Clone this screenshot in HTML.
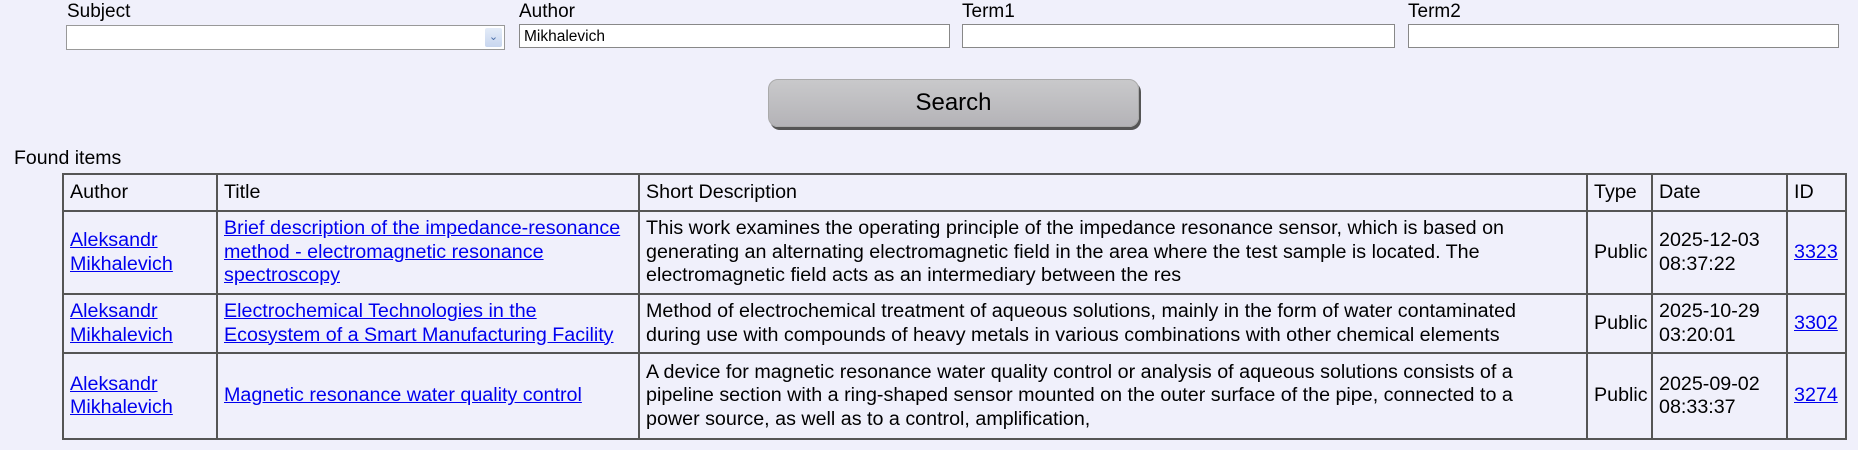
<!DOCTYPE html>
<html><head><meta charset="utf-8"><style>
body{margin:0;width:1858px;height:450px;background:#f0f0fb;font-family:"Liberation Sans",Arial,sans-serif;color:#000;position:relative;overflow:hidden}
.lbl{position:absolute;font-size:19px;top:1px}
.inp{position:absolute;top:24px;height:24px;background:#fff;border:1px solid #888;box-sizing:border-box;font-size:15.5px;padding:3px 4px}
.sel{top:25px;border-color:#999}
.arr{position:absolute;right:2px;top:2px;width:17px;height:19px;background:linear-gradient(#e4ecf8,#c8d6ef);color:#4a6ea8;font-size:11px;text-align:center;line-height:19px;border-radius:2px}
.btn{position:absolute;left:768px;top:79px;width:371px;height:48px;box-sizing:border-box;background:linear-gradient(#c9c9cb,#b4b3b7);border-radius:10px;border:1px solid #aaa;box-shadow:2px 3px 0 #555;font-size:24px;text-align:center;line-height:46px}
.found{position:absolute;left:14px;top:147px;font-size:19.5px}
table{position:absolute;left:62px;top:173px;border-collapse:collapse;table-layout:fixed;width:1783px;font-size:19.7px;line-height:23.5px}
td{border:2px solid #555;padding:0 6px;vertical-align:middle;box-sizing:border-box}
td.d{padding-right:40px}
a{color:#00e;text-decoration:underline}
</style></head><body>
<div class="lbl" style="left:67px">Subject</div>
<div class="lbl" style="left:519px">Author</div>
<div class="lbl" style="left:962px">Term1</div>
<div class="lbl" style="left:1408px">Term2</div>
<div class="inp sel" style="left:66px;width:439px;height:25px"><div class="arr">&#8964;</div></div>
<div class="inp" style="left:519px;width:431px">Mikhalevich</div>
<div class="inp" style="left:962px;width:433px"></div>
<div class="inp" style="left:1408px;width:431px"></div>
<div class="btn">Search</div>
<div class="found">Found items</div>
<table>
<colgroup><col style="width:154px"><col style="width:422px"><col style="width:948px"><col style="width:65px"><col style="width:135px"><col style="width:59px"></colgroup>
<tr style="height:37px"><td>Author</td><td>Title</td><td>Short Description</td><td>Type</td><td>Date</td><td>ID</td></tr>
<tr style="height:83px"><td><a>Aleksandr Mikhalevich</a></td><td><a>Brief description of the impedance-resonance method - electromagnetic resonance spectroscopy</a></td><td class="d">This work examines the operating principle of the impedance resonance sensor, which is based on generating an alternating electromagnetic field in the area where the test sample is located. The electromagnetic field acts as an intermediary between the res</td><td>Public</td><td>2025-12-03 08:37:22</td><td><a>3323</a></td></tr>
<tr style="height:59px"><td><a>Aleksandr Mikhalevich</a></td><td><a>Electrochemical Technologies in the Ecosystem of a Smart Manufacturing Facility</a></td><td class="d">Method of electrochemical treatment of aqueous solutions, mainly in the form of water contaminated during use with compounds of heavy metals in various combinations with other chemical elements</td><td>Public</td><td>2025-10-29 03:20:01</td><td><a>3302</a></td></tr>
<tr style="height:86px"><td><a>Aleksandr Mikhalevich</a></td><td><a>Magnetic resonance water quality control</a></td><td class="d">A device for magnetic resonance water quality control or analysis of aqueous solutions consists of a pipeline section with a ring-shaped sensor mounted on the outer surface of the pipe, connected to a power source, as well as to a control, amplification,</td><td>Public</td><td>2025-09-02 08:33:37</td><td><a>3274</a></td></tr>
</table>
</body></html>
